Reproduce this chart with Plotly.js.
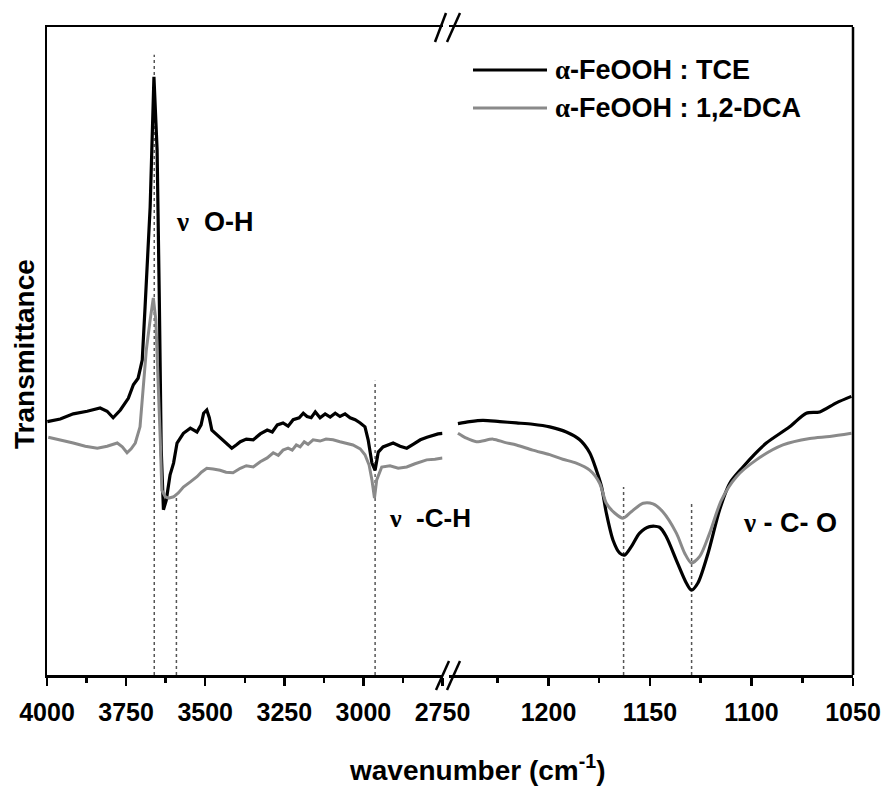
<!DOCTYPE html>
<html>
<head>
<meta charset="utf-8">
<script src="https://cdn.plot.ly/plotly-3.0.1.min.js"></script>
<style>html,body{margin:0;padding:0;background:#fff;}</style>
</head>
<body>
<div id="chart" style="width:889px;height:787px;"></div>
<script>
// ---- Data ----
// High-wavenumber region (left panel, cm-1)
const tceHighX = [3999,3958,3917,3873,3832,3810,3791,3768,3743,3727,3712,3699,3690,3674,3662,3652,3645,3639,3632,3623,3611,3600,3589,3569,3547,3526,3513,3505,3495,3487,3479,3453,3434,3416,3402,3389,3370,3348,3326,3304,3288,3272,3254,3238,3222,3203,3190,3178,3165,3152,3137,3121,3105,3089,3074,3058,3042,3026,3010,2995,2985,2973,2963,2953,2938,2922,2906,2884,2863,2843,2820,2799,2780,2764,2750];
const tceHighY = [39.1,39.5,40.3,40.7,41.2,40.7,39.7,40.9,42.7,44.8,45.8,48.6,56.8,72.2,92.3,81.0,57.9,34.7,25.5,27.0,30.9,32.7,35.8,37.3,38.1,37.5,38.6,40.4,40.9,39.7,37.8,36.7,35.8,35.0,35.5,36.0,36.4,36.3,37.2,37.8,37.5,38.6,38.9,38.4,39.4,39.7,40.4,39.9,39.7,40.6,39.7,40.3,39.8,40.4,39.9,40.3,39.7,39.4,38.9,38.3,36.3,32.7,31.6,34.4,35.2,35.5,35.8,35.3,35.0,35.6,36.3,36.7,37.0,37.2,37.3];
const dcaHighX = [3996,3958,3917,3879,3841,3810,3778,3762,3747,3734,3721,3706,3699,3686,3674,3664,3656,3648,3642,3637,3626,3616,3600,3585,3569,3547,3526,3512,3495,3475,3453,3434,3412,3389,3370,3348,3326,3304,3285,3269,3254,3238,3225,3212,3200,3187,3175,3159,3137,3118,3096,3074,3055,3033,3010,2995,2982,2973,2965,2958,2942,2916,2890,2863,2837,2800,2774,2750];
const dcaHighY = [36.7,36.3,35.8,35.3,35.0,35.3,35.8,35.2,34.3,34.9,35.8,38.3,42.9,50.2,54.8,58.2,54.8,45.5,36.3,28.5,27.5,27.3,27.5,28.1,29.0,29.8,30.6,31.3,31.9,31.8,31.6,31.3,31.2,31.9,32.3,32.1,32.9,33.5,34.3,33.9,34.7,35.0,34.7,35.5,35.2,36.0,35.6,36.3,36.1,36.4,36.3,36.0,35.8,35.5,34.9,34.0,32.4,30.1,27.3,30.1,32.1,32.3,31.9,32.1,32.6,33.2,33.3,33.5];
// Low-wavenumber region (right panel, cm-1)
const tceLowX = [1244.6,1238.8,1232.3,1224.0,1215.8,1207.8,1199.4,1191.2,1184.6,1179.7,1176.4,1173.9,1171.5,1168.2,1164.9,1162.5,1159.2,1155.1,1150.2,1145.3,1141.9,1137.0,1132.1,1129.6,1126.4,1121.4,1115.7,1110.7,1104.2,1098.4,1092.7,1081.2,1073.0,1066.4,1058.2,1050.8];
const tceLowY = [38.8,39.1,39.3,39.1,38.9,38.7,38.3,37.5,36.3,34.3,31.6,29.1,25.0,20.8,18.8,18.5,19.8,21.9,22.9,22.8,21.3,17.7,14.2,13.1,14.2,18.8,25.5,29.6,32.1,34.1,35.8,38.3,40.4,40.6,42.0,43.0];
const dcaLowX = [1244.6,1240.8,1235.5,1227.3,1221.6,1215.8,1207.8,1199.4,1193.0,1186.3,1179.7,1174.8,1171.5,1167.4,1163.3,1159.2,1153.4,1148.5,1143.7,1137.0,1132.9,1129.6,1125.5,1120.6,1114.8,1107.4,1097.6,1084.5,1071.3,1061.5,1050.8];
const dcaLowY = [37.3,36.6,36.0,36.4,35.9,35.5,34.7,34.0,33.3,32.7,31.6,29.6,26.5,25.0,24.2,25.2,26.5,26.4,25.2,21.9,18.8,17.3,18.3,21.9,27.0,30.6,33.2,35.5,36.5,36.8,37.3];
// Dotted band-position markers: [wavenumber, top of line (y), axis]
const markerPos  = [3661, 3591, 2963, 1163, 1129.5];
const markerTop  = [95.7, 27.3, 45.4, 29.0, 26.5];
const markerAxis = ['x', 'x', 'x', 'x2', 'x2'];
const seriesNames = ['α-FeOOH : TCE', 'α-FeOOH : 1,2-DCA'];
const leftTicks = {range: [4000, 2750], dtick: 250, minor: 125};
const rightTicks = {range: [1249, 1050], dtick: 50, minor: 25};

const BLACK = '#000000', GREY = '#8a8a8a';
const SANS = 'Liberation Sans, Arial, sans-serif';
const SERIF = 'Liberation Serif, Times New Roman, serif';

const traces = [
  {x: tceHighX, y: tceHighY, xaxis: 'x', yaxis: 'y', name: seriesNames[0], mode: 'lines', line: {color: BLACK, width: 3.2}},
  {x: dcaHighX, y: dcaHighY, xaxis: 'x', yaxis: 'y', name: seriesNames[1], mode: 'lines', line: {color: GREY, width: 3}},
  {x: tceLowX, y: tceLowY, xaxis: 'x2', yaxis: 'y', name: seriesNames[0], mode: 'lines', line: {color: BLACK, width: 3.2, shape: 'spline', smoothing: 0.8}},
  {x: dcaLowX, y: dcaLowY, xaxis: 'x2', yaxis: 'y', name: seriesNames[1], mode: 'lines', line: {color: GREY, width: 3, shape: 'spline', smoothing: 0.8}}
];

// pixel -> paper helpers (plot area: x 47..853, y 27..675)
const PX = p => (p - 47) / 806;
const PY = p => (675 - p) / 648;

const shapes = [];
markerPos.forEach((w, i) => {
  shapes.push({type: 'line', xref: markerAxis[i], yref: 'y', x0: w, x1: w, y0: 0, y1: markerTop[i],
    line: {color: '#555', width: 1.5, dash: 'dot'}, layer: 'below'});
});
// right frame line
shapes.push({type: 'line', xref: 'paper', yref: 'paper', x0: 1, x1: 1, y0: 0, y1: 1, line: {color: BLACK, width: 2.5}});
// axis break marks "//"
[[436, 690, 449, 661], [447, 690, 460, 661], [435, 42, 446, 13], [447, 42, 460, 13]].forEach(s => {
  shapes.push({type: 'line', xref: 'paper', yref: 'paper', x0: PX(s[0]), y0: PY(s[1]), x1: PX(s[2]), y1: PY(s[3]),
    line: {color: BLACK, width: 2.5}});
});
// legend samples
shapes.push({type: 'line', xref: 'paper', yref: 'paper', x0: PX(473), x1: PX(547), y0: PY(70), y1: PY(70), line: {color: BLACK, width: 3.2}});
shapes.push({type: 'line', xref: 'paper', yref: 'paper', x0: PX(473), x1: PX(547), y0: PY(108), y1: PY(108), line: {color: GREY, width: 3}});

const nu = '<span style="font-family:' + SERIF + '">ν</span>';
const al = '<span style="font-family:' + SERIF + '">α</span>';
const txt = (t, x, y, size, extra) => Object.assign({text: t, xref: 'paper', yref: 'paper', x: x, y: y,
  xanchor: 'left', yanchor: 'middle', showarrow: false, font: {family: SANS, size: size, color: BLACK, weight: 'bold'}}, extra || {});

const annotations = [
  txt(al + '-FeOOH : TCE', PX(553), PY(70), 27),
  txt(al + '-FeOOH : 1,2-DCA', PX(553), PY(108), 27),
  txt(nu + '  O-H', PX(174), PY(222), 27),
  txt(nu + '  -C-H', PX(387), PY(518), 26),
  txt(nu + ' - C- O', PX(741), PY(523), 27),
  txt('wavenumber (cm<sup>-1</sup>)', PX(477), PY(768), 28, {xanchor: 'center'}),
  txt('Transmittance', PX(24), PY(354), 28, {xanchor: 'center', textangle: -90})
];

const xCommon = {
  anchor: 'y', showline: true, linewidth: 2.5, linecolor: BLACK, mirror: true,
  ticks: 'outside', ticklen: 8, tickwidth: 2.5, tickcolor: BLACK,
  showgrid: false, zeroline: false, ticklabelstandoff: 5,
  tickfont: {family: SANS, size: 25, color: BLACK, weight: 'bold'}
};

const layout = {
  width: 889, height: 787,
  margin: {l: 47, r: 36, t: 27, b: 112, pad: 0},
  paper_bgcolor: '#fff', plot_bgcolor: '#fff',
  showlegend: false,
  xaxis: Object.assign({}, xCommon, {domain: [0, PX(442.5)], range: leftTicks.range, tick0: 4000, dtick: leftTicks.dtick,
    minor: {dtick: leftTicks.minor, ticks: 'outside', ticklen: 5, tickwidth: 2.5, tickcolor: BLACK, showgrid: false}}),
  xaxis2: Object.assign({}, xCommon, {domain: [PX(449), 1], range: rightTicks.range, tick0: 1050, dtick: rightTicks.dtick,
    minor: {dtick: rightTicks.minor, ticks: 'outside', ticklen: 5, tickwidth: 2.5, tickcolor: BLACK, showgrid: false}}),
  yaxis: {range: [0, 100], showline: true, linewidth: 2.5, linecolor: BLACK, showticklabels: false, ticks: '',
    showgrid: false, zeroline: false},
  shapes: shapes,
  annotations: annotations
};

Plotly.newPlot('chart', traces, layout, {displayModeBar: false, staticPlot: true});
</script>
</body>
</html>
